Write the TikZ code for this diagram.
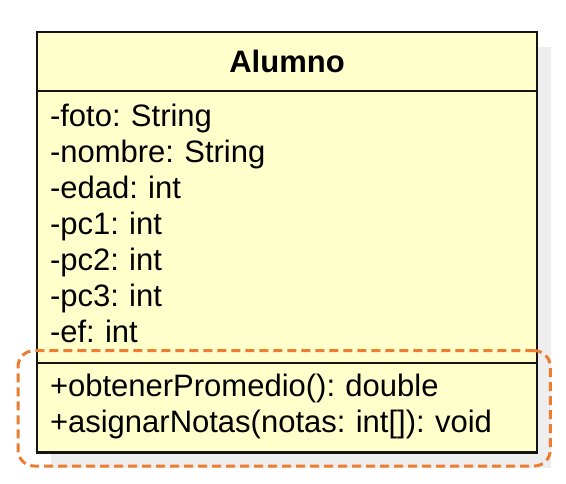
\documentclass[tikz,border=0pt]{standalone}
\usepackage{fontspec}
\setmainfont{Liberation Sans}
\usetikzlibrary{positioning,calc,fit,backgrounds}
\definecolor{fondo}{HTML}{FFFFCC}
\definecolor{sombra}{HTML}{EEEEEE}
\definecolor{naranja}{HTML}{ED7D31}
\definecolor{borde}{HTML}{141414}
\frenchspacing

\begin{document}
\begin{tikzpicture}[
  x=1pt, y=-1pt,
  node distance=0pt,
  caja/.style={draw=borde, line width=2.5pt, fill=fondo, minimum width=500pt,
    inner sep=0pt, outer sep=0pt, font=\fontsize{31}{36}\selectfont},
  seccion/.style={caja, text width=474pt, inner xsep=13pt, align=left,
    execute at begin node=\strut, execute at end node=\strut},
  grupo/.style={draw=naranja, line width=3pt, rounded corners=16pt,
    dash pattern=on 9pt off 5pt, inner sep=0pt}
  ]
  \useasboundingbox (0,0) rectangle (566,483);
  \node[caja, minimum height=59pt, font=\fontsize{31}{36}\selectfont\bfseries]
    (cabecera) at (287,61.5) {Alumno};
  \node[seccion, minimum height=272pt, below=of cabecera] (atributos)
    {-foto: String\\-nombre: String\\-edad: int\\-pc1: int\\-pc2: int\\-pc3: int\\-ef: int};
  \node[seccion, minimum height=89.5pt, below=of atributos] (metodos)
    {+obtenerPromedio(): double\\+asignarNotas(notas: int[]): void};
  % sombra de la clase
  \begin{scope}[on background layer]
    \fill[sombra] ($(cabecera.north west)+(14,15)$) rectangle ($(metodos.south east)+(14,15)$);
  \end{scope}
  % grupo de metodos
  \node[grupo, fit={($(metodos.north west)+(-19,-12.3)$) ($(metodos.south east)+(13.3,13.5)$)}] (marco) {};
\end{tikzpicture}
\end{document}
